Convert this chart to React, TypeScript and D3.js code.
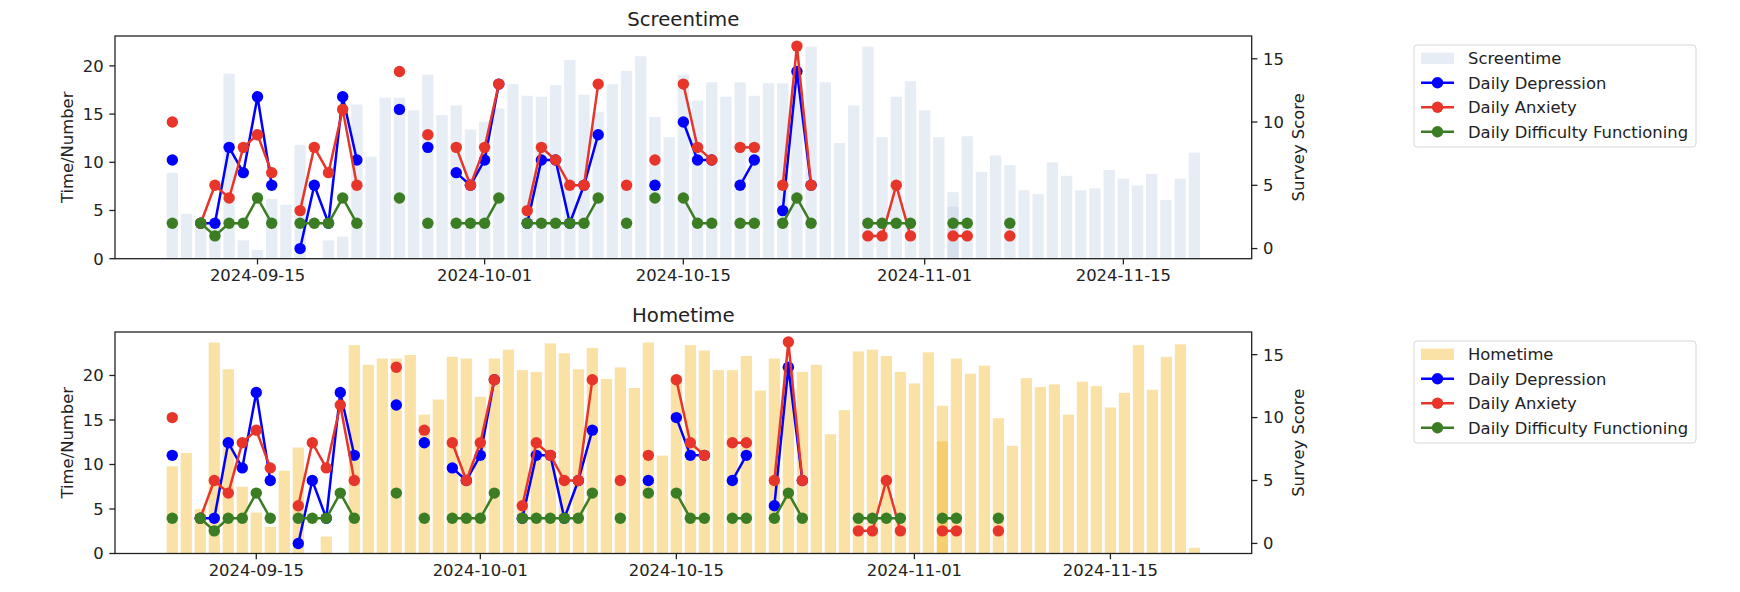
import React from "react"
import * as d3 from "d3"

// daily bars, one value per day from startDay to endDay (null = no record)
const startDay = "2024-09-09"
const endDay = "2024-11-21"

const screentime = [
  8.9, 4.65, 4.0, 3.5, 19.2, 1.9, 0.9, 6.2, 5.6, 11.8, null, 1.9, 2.3, 16.0, 10.6, 16.7, 16.7, 15.4, 19.1, 14.9, 15.9, 13.4,
  14.2, 15.6, 18.1, 16.9, 16.8, 18.0, 20.6, 17.0, 15.2, 18.1, 19.5, 21.0, 14.7, 12.6, 19.1, 16.4, 18.3, 16.8, 18.3, 16.9,
  18.2, 18.2, 18.0, 22.0, 18.3, 12.0, 15.9, 22.0, 12.6, 16.8, 18.4,
  15.4, 12.6, 6.9, 12.7, 9.0, 10.7, 9.7, 7.1, 6.7, 10.0, 8.6, 7.1, 7.3, 9.2, 8.3, 7.6, 8.8, 6.1, 8.3, 11.0, null,
]

const hometime = [
  9.8, 11.3, 5.0, 23.7, 20.7, 7.5, 4.6, 3.0, 9.3, 11.9, null, 1.9, null, 23.4, 21.2, 21.9, 21.9, 22.3, 15.6, 17.3, 22.1, 21.9,
  17.6, 21.9, 22.9, 20.6, 20.4, 23.6, 22.5, 20.7, 23.1, 19.6, 20.9, 18.6, 23.7, 11.0, 20.0, 23.4, 22.8, 20.6, 20.6, 22.2,
  18.3, 21.9, 21.0, 20.4, 21.2, 13.4, 16.1, 22.7, 22.9, 22.2, 20.4,
  19.1, 22.6, 16.6, 21.9, 20.2, 21.1, 15.2, 12.1, 19.7, 18.7, 19.0, 15.6, 19.3, 18.8, 16.4, 18.05, 23.4, 18.4, 22.1, 23.5, 0.64,
]

// second record on the same day (drawn on top, overlapping)
const screentimeExtraDates = ["2024-11-03"]
const screentimeExtra = [5.4]
const hometimeExtraDates = ["2024-11-03"]
const hometimeExtra = [12.6]

const surveyDates = [
  "2024-09-09", "2024-09-11", "2024-09-12", "2024-09-13", "2024-09-14", "2024-09-15", "2024-09-16", "2024-09-18",
  "2024-09-19", "2024-09-20", "2024-09-21", "2024-09-22", "2024-09-25", "2024-09-27", "2024-09-29", "2024-09-30",
  "2024-10-01", "2024-10-02", "2024-10-04", "2024-10-05", "2024-10-06", "2024-10-07", "2024-10-08", "2024-10-09",
  "2024-10-11", "2024-10-13", "2024-10-15", "2024-10-16", "2024-10-17", "2024-10-19", "2024-10-20", "2024-10-22",
  "2024-10-23", "2024-10-24", "2024-10-28", "2024-10-29", "2024-10-30", "2024-10-31", "2024-11-03", "2024-11-04",
  "2024-11-07",
]
const depression = [
  7, 2, 2, 8, 6, 12, 5, 0, 5, 2, 12, 7, 11, 8, 6, 5, 7, 13, 2, 7, 7, 2, 5, 9, null, 5, 10, 7, 7, 5, 7, 3, 14, 5,
  null, null, null, null, null, null, null,
]
const anxiety = [
  10, 2, 5, 4, 8, 9, 6, 3, 8, 6, 11, 5, 14, 9, 8, 5, 8, 13, 3, 8, 7, 5, 5, 13, 5, 7, 13, 8, 7, 8, 8, 5, 16, 5,
  1, 1, 5, 1, 1, 1, 1,
]
const difficulty = [
  2, 2, 1, 2, 2, 4, 2, 2, 2, 2, 4, 2, 4, 2, 2, 2, 2, 4, 2, 2, 2, 2, 2, 4, 2, 4, 4, 2, 2, 2, 2, 2, 4, 2,
  2, 2, 2, 2, 2, 2, 2,
]

const xTickLabels = ["2024-09-15", "2024-10-01", "2024-10-15", "2024-11-01", "2024-11-15"]
const leftTicks = [0, 5, 10, 15, 20]
const rightTicks = [0, 5, 10, 15]

const FONT = "DejaVu Sans, sans-serif"
const TICK_FS = 16.4
const parse = d3.utcParse("%Y-%m-%d")!
const DAY = 864e5
const days = d3.utcDay.range(parse(startDay)!, d3.utcDay.offset(parse(endDay)!, 1))

const series = [
  { name: "Daily Depression", values: depression, color: "#0000ff" },
  { name: "Daily Anxiety", values: anxiety, color: "#e8352a" },
  { name: "Daily Difficulty Functioning", values: difficulty, color: "#3a7d23" },
]

const LEFT = 115
const RIGHT = 1251.7

// split a series into runs of consecutive days
function segments(values: (number | null)[]) {
  const runs: { date: Date; value: number }[][] = []
  let cur: { date: Date; value: number }[] = []
  let prev: Date | null = null
  surveyDates.forEach((s, i) => {
    const v = values[i]
    const d = parse(s)!
    if (v == null) {
      if (cur.length) runs.push(cur)
      cur = []
      prev = null
      return
    }
    if (prev && +d - +prev > DAY * 1.5) {
      runs.push(cur)
      cur = []
    }
    cur.push({ date: d, value: v })
    prev = d
  })
  if (cur.length) runs.push(cur)
  return runs
}

function Legend({ top, barName, fill, opacity }: { top: number; barName: string; fill: string; opacity: number }) {
  const x0 = 1414
  const rows = [barName, ...series.map((s) => s.name)]
  const rowY = (i: number) => top + 13.3 + i * 24.5
  return (
    <g fontFamily={FONT} fontSize={TICK_FS}>
      <rect x={x0} y={top} width={282} height={102} rx={3} fill="#fff" fillOpacity={0.8} stroke="#d6d6d6" />
      <rect x={x0 + 7} y={rowY(0) - 5.7} width={33} height={11.4} fill={fill} fillOpacity={opacity} />
      {series.map((s, i) => (
        <g key={s.name}>
          <line x1={x0 + 7} x2={x0 + 40} y1={rowY(i + 1)} y2={rowY(i + 1)} stroke={s.color} strokeWidth={2.5} />
          <circle cx={x0 + 23.5} cy={rowY(i + 1)} r={5.7} fill={s.color} />
        </g>
      ))}
      {rows.map((r, i) => (
        <text key={r} x={x0 + 54} y={rowY(i)} dy="0.36em" fill="#222">
          {r}
        </text>
      ))}
    </g>
  )
}

function Panel({
  top,
  height,
  title,
  barName,
  values,
  extraDates,
  extra,
  fill,
  opacity,
}: {
  top: number
  height: number
  title: string
  barName: string
  values: (number | null)[]
  extraDates: string[]
  extra: number[]
  fill: string
  opacity: number
}) {
  const bottom = top + height
  const bars = days
    .map((d, i) => ({ date: d, value: values[i] as number | null }))
    .filter((b) => b.value != null) as { date: Date; value: number }[]
  const extraBars = extraDates.map((s, i) => ({ date: parse(s)!, value: extra[i] }))

  const lo = +d3.min(bars, (b) => b.date)! - 0.4 * DAY
  const hi = +d3.max(bars, (b) => b.date)! + 0.4 * DAY
  const pad = (hi - lo) * 0.05
  const x = d3
    .scaleUtc()
    .domain([new Date(lo - pad), new Date(hi + pad)])
    .range([LEFT, RIGHT])

  const maxBar = d3.max([...bars, ...extraBars], (b) => b.value)!
  const y = d3.scaleLinear().domain([0, maxBar * 1.05]).range([bottom, top])

  const allScores = series.flatMap((s) => s.values.filter((v) => v != null) as number[])
  const [sMin, sMax] = d3.extent(allScores) as [number, number]
  const sPad = (sMax - sMin) * 0.05
  const y2 = d3.scaleLinear().domain([sMin - sPad, sMax + sPad]).range([bottom, top])

  const bw = x(new Date(+parse(startDay)! + 0.8 * DAY)) - x(parse(startDay)!)
  const line = d3
    .line<{ date: Date; value: number }>()
    .x((d) => x(d.date))
    .y((d) => y2(d.value))

  return (
    <g fontFamily={FONT}>
      <text x={(LEFT + RIGHT) / 2} y={top - 10} textAnchor="middle" fontSize={19.7} fill="#222">
        {title}
      </text>

      {[...bars, ...extraBars].map((b, i) => (
        <rect
          key={i}
          x={x(b.date) - bw / 2}
          y={y(b.value)}
          width={bw}
          height={bottom - y(b.value)}
          fill={fill}
          fillOpacity={opacity}
        />
      ))}

      {series.map((s) => (
        <g key={s.name}>
          {segments(s.values).map((run, i) => (
            <g key={i}>
              {run.length > 1 && (
                <path d={line(run)!} fill="none" stroke={s.color} strokeWidth={2.5} strokeLinejoin="round" />
              )}
              {run.map((p, j) => (
                <circle key={j} cx={x(p.date)} cy={y2(p.value)} r={5.7} fill={s.color} />
              ))}
            </g>
          ))}
        </g>
      ))}

      <rect x={LEFT} y={top} width={RIGHT - LEFT} height={height} fill="none" stroke="#222" strokeWidth={1.3} />

      {xTickLabels.map((t) => {
        const px = x(parse(t)!)
        return (
          <g key={t}>
            <line x1={px} x2={px} y1={bottom} y2={bottom + 5.7} stroke="#222" strokeWidth={1.3} />
            <text x={px} y={bottom + 22.5} textAnchor="middle" fontSize={TICK_FS} fill="#222">
              {t}
            </text>
          </g>
        )
      })}

      {leftTicks.map((t) => (
        <g key={t}>
          <line x1={LEFT - 5.7} x2={LEFT} y1={y(t)} y2={y(t)} stroke="#222" strokeWidth={1.3} />
          <text x={LEFT - 11.4} y={y(t)} dy="0.36em" textAnchor="end" fontSize={TICK_FS} fill="#222">
            {t}
          </text>
        </g>
      ))}

      {rightTicks.map((t) => (
        <g key={t}>
          <line x1={RIGHT} x2={RIGHT + 5.7} y1={y2(t)} y2={y2(t)} stroke="#222" strokeWidth={1.3} />
          <text x={RIGHT + 11.4} y={y2(t)} dy="0.36em" textAnchor="start" fontSize={TICK_FS} fill="#222">
            {t}
          </text>
        </g>
      ))}

      <text
        transform={`translate(67,${(top + bottom) / 2}) rotate(-90)`}
        textAnchor="middle"
        dy="0.36em"
        fontSize={TICK_FS}
        fill="#222"
      >
        Time/Number
      </text>
      <text
        transform={`translate(1298,${(top + bottom) / 2}) rotate(-90)`}
        textAnchor="middle"
        dy="0.36em"
        fontSize={TICK_FS}
        fill="#222"
      >
        Survey Score
      </text>

      <Legend top={top + 9} barName={barName} fill={fill} opacity={opacity} />
    </g>
  )
}

export default function App() {
  return (
    <svg
      width={1740}
      height={592}
      style={{ position: "absolute", left: 0, top: 0, background: "#fff" }}
    >
      <rect width={1740} height={592} fill="#fff" />
      <Panel
        top={36}
        height={222.7}
        title="Screentime"
        barName="Screentime"
        values={screentime}
        extraDates={screentimeExtraDates}
        extra={screentimeExtra}
        fill="#b0c4de"
        opacity={0.3}
      />
      <Panel
        top={332}
        height={221.5}
        title="Hometime"
        barName="Hometime"
        values={hometime}
        extraDates={hometimeExtraDates}
        extra={hometimeExtra}
        fill="#f2b31f"
        opacity={0.4}
      />
    </svg>
  )
}
